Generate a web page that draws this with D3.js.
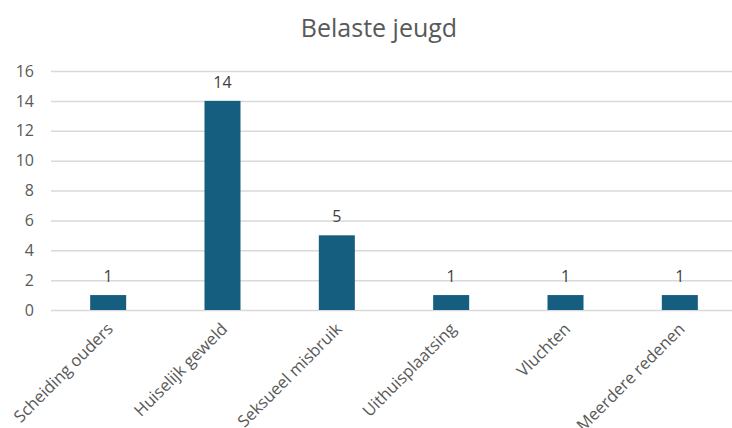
<!DOCTYPE html>
<html><head><meta charset="utf-8">
<script src="https://cdn.jsdelivr.net/npm/d3@7"></script>
<style>body{margin:0;background:#fff}svg{display:block}</style>
</head><body>
<svg id="c" width="732" height="428"></svg>
<script>
const title = "Belaste jeugd";
const categories = ["Scheiding ouders","Huiselijk geweld","Seksueel misbruik","Uithuisplaatsing","Vluchten","Meerdere redenen"];
const values = [1,14,5,1,1,1];
const yTicks = [0,2,4,6,8,10,12,14,16];

const svg = d3.select("#c");
const font = "'Open Sans', 'Noto Sans', sans-serif";
const x = d3.scaleBand().domain(categories).range([51, 737]).paddingInner(0.685).paddingOuter(0.3425);
const y = d3.scaleLinear().domain([0,16]).range([310, 71]);

svg.append("text").attr("x", 379).attr("y", 37).attr("text-anchor","middle")
  .attr("font-family", font).attr("font-size", 25).attr("fill","#595959").text(title);

const yAxis = d3.axisLeft(y).tickValues(yTicks).tickSize(-(732-51)).tickPadding(17);
const gy = svg.append("g").attr("transform","translate(51,0)").call(yAxis);
gy.select(".domain").remove();
gy.selectAll(".tick line").attr("stroke","#d9d9d9").attr("stroke-width",1.5);
gy.selectAll(".tick text").attr("font-family", font).attr("font-size", 16).attr("fill","#595959");

svg.selectAll("rect.bar").data(values).join("rect").attr("class","bar")
  .attr("x",(d,i)=>x(categories[i])).attr("width",x.bandwidth())
  .attr("y",d=>y(d)).attr("height",d=>y(0)-y(d)).attr("fill","#165e80");

svg.selectAll("text.lbl").data(values).join("text").attr("class","lbl")
  .attr("x",(d,i)=>x(categories[i])+x.bandwidth()/2).attr("y",d=>y(d)-13)
  .attr("text-anchor","middle").attr("font-family",font).attr("font-size",16).attr("fill","#404040").text(d=>d);

const xAxis = d3.axisBottom(x).tickSize(0).tickPadding(0);
const gx = svg.append("g").attr("transform","translate(0,310)").call(xAxis);
gx.select(".domain").remove();
gx.selectAll(".tick text")
  .attr("font-family", font).attr("font-size", 16.5).attr("fill","#595959")
  .attr("text-anchor","end").attr("dy", null)
  .attr("transform","translate(6,20) rotate(-45)");
</script>
</body></html>
